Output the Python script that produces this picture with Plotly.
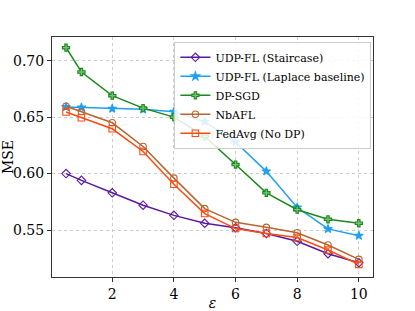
import plotly.graph_objects as go

eps = [0.5, 1, 2, 3, 4, 5, 6, 7, 8, 9, 10]
udp_stair = [0.600, 0.594, 0.583, 0.572, 0.563, 0.556, 0.552, 0.547, 0.540, 0.529, 0.521]
udp_laplace = [0.659, 0.6585, 0.6575, 0.657, 0.6548, 0.646, 0.628, 0.602, 0.570, 0.551, 0.545]
dp_sgd = [0.7115, 0.690, 0.669, 0.658, 0.650, 0.633, 0.608, 0.583, 0.568, 0.5595, 0.556]
nbafl = [0.6597, 0.655, 0.645, 0.624, 0.596, 0.569, 0.5568, 0.5524, 0.5476, 0.5367, 0.524]
fedavg = [0.6545, 0.6495, 0.6397, 0.6196, 0.5905, 0.5646, 0.5513, 0.547, 0.5434, 0.5323, 0.5196]

names = ["UDP-FL (Staircase)", "UDP-FL (Laplace baseline)", "DP-SGD", "NbAFL", "FedAvg (No DP)"]
series = [udp_stair, udp_laplace, dp_sgd, nbafl, fedavg]
colors = ["#5a1aa0", "#1ea0f0", "#1a8a1a", "#b8652e", "#ff4a10"]
symbols = ["diamond-open", "star", "cross", "circle-open", "square-open"]
sizes = [6.5, 6.5, 6, 6.5, 6.5]
fills = ["white", "#1ea0f0", "#7cc07c", "white", "white"]

FONT = "'DejaVu Serif', 'Liberation Serif', serif"

fig = go.Figure()
for n, s, c, sym, sz, f in zip(names, series, colors, symbols, sizes, fills):
    marker = dict(symbol=sym, size=sz, color=c if "open" in sym else f,
                  line=dict(color=c, width=1.1))
    fig.add_trace(go.Scatter(x=eps, y=s, mode="lines+markers", name=n,
                             line=dict(color=c, width=1.5), marker=marker))

axis_common = dict(showline=True, linecolor="#333", linewidth=1, mirror=True,
                   ticks="outside", ticklen=4, tickcolor="#333", automargin=False,
                   showgrid=True, gridcolor="#cccccc", griddash="dot", gridwidth=1,
                   zeroline=False, tickfont=dict(family=FONT, size=14, color="black"))

fig.update_layout(
    width=415, height=311,
    margin=dict(l=52, r=42, t=37, b=34),
    paper_bgcolor="white", plot_bgcolor="white",
    font=dict(family=FONT, color="black"),
    xaxis=dict(range=[0.045, 10.46], tickvals=[2, 4, 6, 8, 10],
               title=dict(text="<i>ε</i>", font=dict(family=FONT, size=14), standoff=10), **axis_common),
    yaxis=dict(range=[0.5084, 0.721], tickvals=[0.55, 0.60, 0.65, 0.70], ticktext=["0.55", "0.60", "0.65", "0.70"],
               title=dict(text="MSE", font=dict(family=FONT, size=14), standoff=0), **axis_common),
    legend=dict(x=0.995, y=0.98, xanchor="right", yanchor="top",
                bgcolor="rgba(255,255,255,0.85)", bordercolor="#cccccc", borderwidth=1,
                font=dict(family=FONT, size=11), tracegroupgap=0, itemwidth=30),
    showlegend=True,
)

fig.write_html("out.html", config={"displayModeBar": False},
               post_script="document.body.style.margin='0';document.body.style.overflow='hidden';")
